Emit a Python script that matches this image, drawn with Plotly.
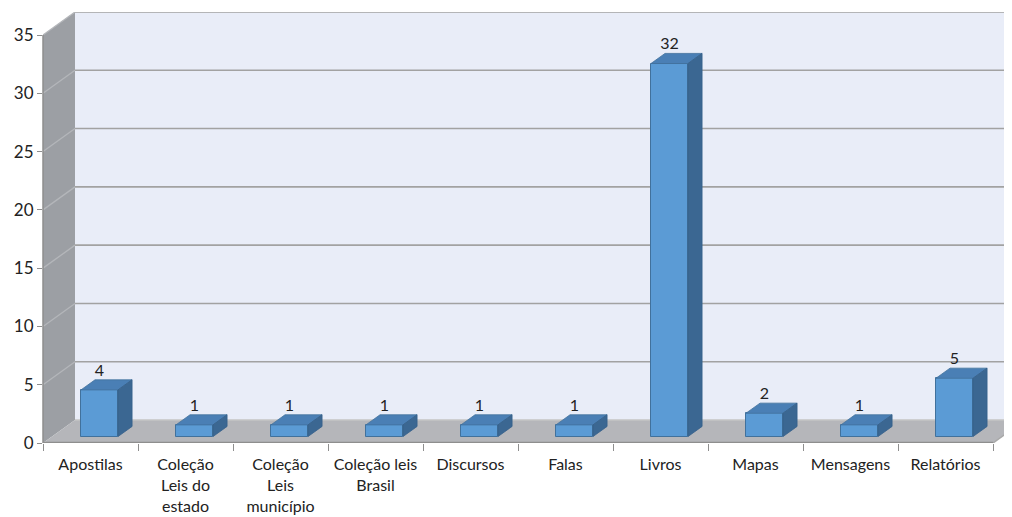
import plotly.graph_objects as go

categories = ["Apostilas", "Coleção<br>Leis do<br>estado", "Coleção<br>Leis<br>município",
              "Coleção leis<br>Brasil", "Discursos", "Falas", "Livros", "Mapas",
              "Mensagens", "Relatórios"]
values = [4, 1, 1, 1, 1, 1, 32, 2, 1, 5]
y_ticks = [0, 5, 10, 15, 20, 25, 30, 35]

# 3D projection helpers (axis units)
DX = 32 / 95          # horizontal shift for full depth
DY = 23 / (408 / 35)  # vertical shift for full depth
D0 = 0.28             # bar front depth fraction
DD = 0.44             # bar depth fraction
BW = 0.39             # bar width
YMAX = 35
XR = [-0.5, -0.5 + (1004 - 35) / 95]
n = len(categories)
pos = list(range(n))

front_col = "#5b9bd5"
top_col = "#4a7fb5"
side_col = "#3b6792"
edge_col = "#41719c"

shapes = []

def poly(pts, fill, line=None, lw=0, layer="below"):
    path = "M " + " L ".join(f"{x},{y}" for x, y in pts) + " Z"
    d = dict(type="path", path=path, xref="x", yref="y", fillcolor=fill, layer=layer,
             line=dict(width=lw, color=line or fill))
    shapes.append(d)

def seg(x0, y0, x1, y1, color, w, layer="below", xref="x", yref="y"):
    shapes.append(dict(type="line", x0=x0, y0=y0, x1=x1, y1=y1, xref=xref, yref=yref,
                       layer=layer, line=dict(color=color, width=w)))

L, R = -0.5, n - 0.5
# back wall
poly([(L + DX, DY), (R + DX, DY), (R + DX, YMAX + DY), (L + DX, YMAX + DY)], "#e9edf8")
# left wall
poly([(L, 0), (L, YMAX), (L + DX, YMAX + DY), (L + DX, DY)], "#9c9fa4")
# floor
poly([(L, 0), (R, 0), (R + DX, DY), (L + DX, DY)], "#b5b6ba")
# gridlines
for v in y_ticks:
    seg(L + DX, v + DY, R + DX, v + DY, "#a2a2a2" if v else "#c4c4c4", 1.6)
    if v:
        seg(L, v, L + DX, v + DY, "#b4b6ba", 1.3)
# floor edges
seg(L, 0, R, 0, "#8e8e8e", 2.5, layer="above", yref="y")
seg(R, 0, R + DX, DY, "#a8a8a8", 1.5)
# left wall front edge
seg(0, 0, 0, YMAX, "#8e8e8e", 1.5, layer="above", xref="paper")

# bar top and side faces
b = DY * D0
dx, dy = DX * DD, DY * DD
for i, v in zip(pos, values):
    x0 = i - BW / 2 + DX * D0
    x1 = x0 + BW
    poly([(x0, v + b), (x1, v + b), (x1 + dx, v + b + dy), (x0 + dx, v + b + dy)],
         top_col, edge_col, 0.8, layer="above")
    poly([(x1, b), (x1, v + b), (x1 + dx, v + b + dy), (x1 + dx, b + dy)],
         side_col, "#35608a", 0.8, layer="above")

fig = go.Figure()
fig.add_trace(go.Bar(
    x=pos, y=values, base=b, width=BW, offset=-BW / 2 + DX * D0,
    marker=dict(color=front_col, line=dict(color=edge_col, width=1)),
    hoverinfo="skip", showlegend=False,
))
fig.add_trace(go.Scatter(
    x=[i + DX * D0 for i in pos], y=[v + b + dy for v in values],
    mode="text", text=[str(v) for v in values], textposition="top center",
    textfont=dict(family="Lato", size=16, color="#222222"),
    hoverinfo="skip", showlegend=False,
))

# page has an 8px body margin, so the figure is sized/offset to compensate
fig.update_layout(
    width=1004, height=509,
    margin=dict(l=35, r=0, t=4, b=74, autoexpand=False),
    paper_bgcolor="white", plot_bgcolor="white",
    font=dict(family="Lato", size=16, color="#222222"),
    shapes=shapes,
    bargap=0,
    xaxis=dict(
        range=XR, tickmode="array", tickvals=pos, ticktext=categories,
        ticks="outside", ticklen=7, tickcolor="rgba(0,0,0,0)", automargin=False,
        showgrid=False, zeroline=False, showline=False,
        minor=dict(tickmode="array", tickvals=[i - 0.5 for i in range(n + 1)],
                   ticks="outside", ticklen=7, tickcolor="#8e8e8e", tickwidth=1, showgrid=False),
    ),
    yaxis=dict(
        range=[0, YMAX + DY], tickmode="array", tickvals=y_ticks, automargin=False,
        ticks="outside", ticklen=5, tickcolor="#8e8e8e",
        tickfont=dict(size=17),
        showgrid=False, zeroline=False, showline=False,
    ),
)

fig.write_html("out.html")
